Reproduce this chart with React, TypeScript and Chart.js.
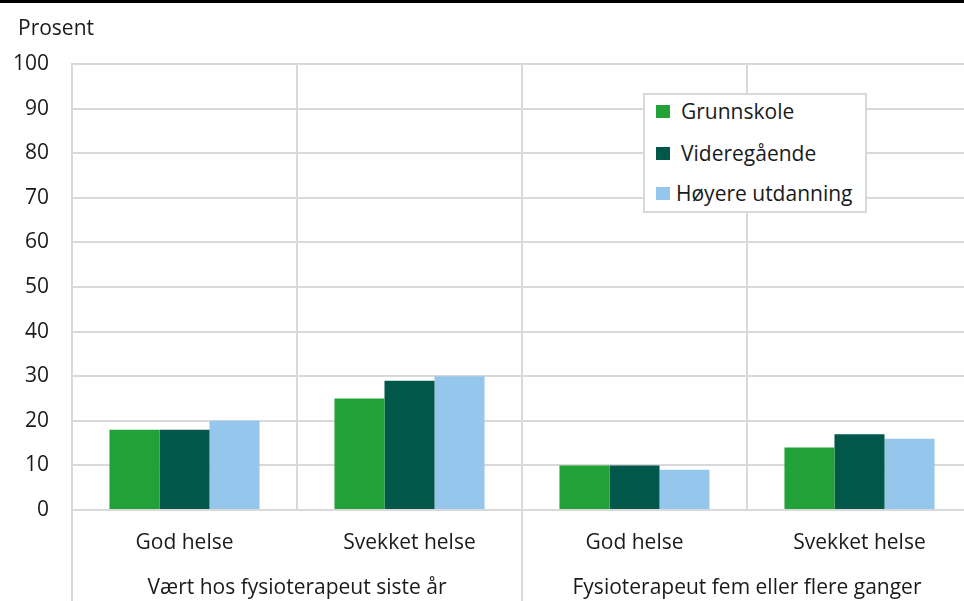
import React, { useEffect, useRef } from "react";
import { Chart, registerables } from "chart.js";

Chart.register(...registerables);

const categories = ["God helse", "Svekket helse", "God helse", "Svekket helse"];
const groups = ["Vært hos fysioterapeut siste år", "Fysioterapeut fem eller flere ganger"];
const seriesNames = ["Grunnskole", "Videregående", "Høyere utdanning"];
const grunnskole = [18, 25, 10, 14];
const videregaende = [18, 29, 10, 17];
const hoyere = [20, 30, 9, 16];
const colors = ["#21a137", "#01574a", "#95c6eb"];
const yTicksMax = 100;
const yStep = 10;

const FONT = "'Open Sans', 'Noto Sans', sans-serif";
const FS = 21;
const GRID = "#d9d9d9";
const TEXT = "#1a1a1a";

const groupSeparators = {
  id: "groupSeparators",
  afterDraw(chart: any) {
    const x = chart.scales.x;
    const ctx = chart.ctx;
    const w = x.getPixelForValue(1) - x.getPixelForValue(0);
    ctx.save();
    ctx.strokeStyle = GRID;
    ctx.lineWidth = 2;
    [0, 2, 4].forEach((i) => {
      const px = x.getPixelForValue(0) + (i - 0.5) * w;
      ctx.beginPath();
      ctx.moveTo(px, chart.chartArea.bottom);
      ctx.lineTo(px, chart.height);
      ctx.stroke();
    });
    ctx.restore();
  },
};

export default function App() {
  const ref = useRef<HTMLCanvasElement>(null);
  useEffect(() => {
    if (!ref.current) return;
    const data = [grunnskole, videregaende, hoyere];
    const chart = new Chart(ref.current, {
      type: "bar",
      data: {
        labels: categories,
        datasets: seriesNames.map((n, i) => ({
          label: n,
          data: data[i],
          backgroundColor: colors[i],
          borderWidth: 0,
          categoryPercentage: 0.667,
          barPercentage: 1.0,
          xAxisID: "x",
        })),
      },
      options: {
        responsive: false,
        animation: false,
        layout: { padding: { top: 64, left: 0, right: 0, bottom: 0 } },
        plugins: { legend: { display: false }, tooltip: { enabled: false } },
        scales: {
          x: {
            type: "category",
            position: "bottom",
            grid: { color: GRID, lineWidth: 2, offset: true, drawTicks: false },
            border: { display: false },
            ticks: { font: { family: FONT, size: FS }, color: TEXT, padding: 20, maxRotation: 0, autoSkip: false },
            afterFit: (s: any) => { s.height = 45; },
          },
          x2: {
            type: "category",
            position: "bottom",
            labels: groups,
            grid: { display: false },
            border: { display: false },
            ticks: { font: { family: FONT, size: FS }, color: TEXT, padding: 12, maxRotation: 0, autoSkip: false },
            afterFit: (s: any) => { s.height = 46; },
          },
          y: {
            min: 0,
            max: yTicksMax,
            ticks: { stepSize: yStep, font: { family: FONT, size: FS }, color: TEXT, padding: 23 },
            grid: { color: GRID, lineWidth: 2, drawTicks: false },
            border: { display: true, color: GRID, width: 2 },
            afterFit: (s: any) => { s.width = 72; },
          },
        },
      },
      plugins: [groupSeparators],
    });
    return () => chart.destroy();
  }, []);

  const rowTops = [2, 44, 84];

  return (
    <div style={{ position: "absolute", left: 0, top: 0, width: 964, height: 601, overflow: "hidden", background: "#fff", fontFamily: FONT }}>
      <canvas ref={ref} width={972} height={601} style={{ position: "absolute", left: 0, top: 0 }} />
      <div style={{ position: "absolute", left: 0, top: 0, width: 964, height: 3, background: "#000" }} />
      <div style={{ position: "absolute", left: 18, top: 13, fontSize: FS, lineHeight: "28px", color: TEXT }}>Prosent</div>
      <div style={{ position: "absolute", left: 643, top: 93, width: 220, height: 116, border: `2px solid ${GRID}`, background: "#fff" }}>
        {seriesNames.map((n, i) => (
          <div key={n} style={{ position: "absolute", left: 11, top: rowTops[i], height: 28, display: "flex", alignItems: "center", fontSize: FS, color: TEXT, whiteSpace: "nowrap" }}>
            <span style={{ display: "inline-block", width: 14, height: 13, background: colors[i], marginRight: i === 2 ? 6 : 11 }} />
            {n}
          </div>
        ))}
      </div>
    </div>
  );
}
